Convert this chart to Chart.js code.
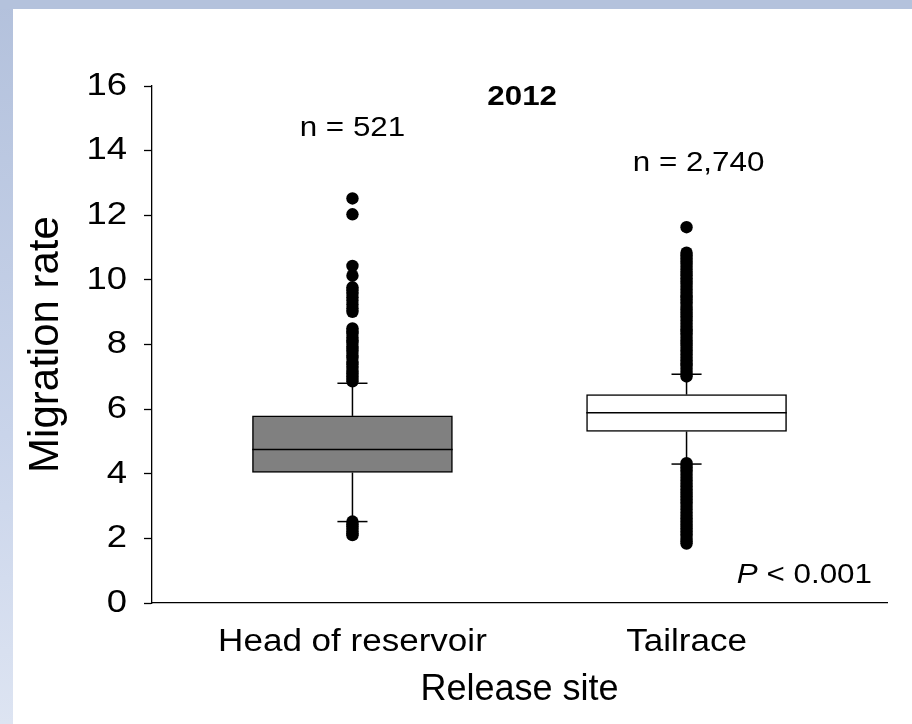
<!DOCTYPE html>
<html>
<head>
<meta charset="utf-8">
<script src="https://cdn.jsdelivr.net/npm/chart.js@4.4.1/dist/chart.umd.min.js"></script>
<style>
  html, body { margin: 0; padding: 0; }
  #frame { position: relative; width: 912px; height: 724px; background: linear-gradient(to bottom, #b3c1dc 0%, #c9d4ea 60%, #dde4f2 100%); overflow: hidden; }
  #frame::before { content: ""; position: absolute; left: 0; top: 0; width: 912px; height: 9px; background: #b4c2dc; }
  #inner { position: absolute; left: 13px; top: 9px; width: 899px; height: 715px; background: #ffffff; }
  #c { position: absolute; left: 0; top: 0; }
</style>
</head>
<body>
<div id="frame"><div id="inner"></div><canvas id="c" width="912" height="724"></canvas></div>
<script>
// ---- data ----
const categories = ['Head of reservoir', 'Tailrace'];
const positions = [1, 2];
const q1 = [4.04, 5.31];
const median = [4.75, 5.89];
const q3 = [5.79, 6.45];
const whiskerLow = [2.52, 4.30];
const whiskerHigh = [6.80, 7.08];
const sampleSizes = ['n = 521', 'n = 2,740'];
const yearLabel = '2012';
const pLabel = ['P', ' < 0.001'];
const yTicks = [0, 2, 4, 6, 8, 10, 12, 14, 16];

const outliersHead = [12.52, 12.03, 10.43, 10.13,
  9.77, 9.68, 9.57, 9.46, 9.36, 9.24, 9.12, 9.01,
  8.50, 8.41, 8.33, 8.22, 8.13, 8.05, 7.94, 7.86, 7.77, 7.66, 7.58, 7.47, 7.39, 7.28, 7.19, 7.11, 7.02, 6.93, 6.86,
  2.52, 2.44, 2.37, 2.30, 2.22, 2.15, 2.10];
const outliersTail = [11.63,
  10.84, 10.76, 10.67, 10.58, 10.49, 10.41, 10.32, 10.22, 10.14, 10.05, 9.96, 9.87, 9.79, 9.70, 9.61, 9.52, 9.44, 9.35,
  9.26, 9.17, 9.09, 9.00, 8.91, 8.82, 8.74, 8.65, 8.56, 8.47, 8.39, 8.30, 8.21, 8.12, 8.04, 7.95, 7.86, 7.77, 7.69, 7.60,
  7.51, 7.42, 7.34, 7.25, 7.16, 7.07, 7.01,
  4.33, 4.24, 4.15, 4.06, 3.97, 3.88, 3.79, 3.70, 3.61, 3.52, 3.43, 3.34, 3.25, 3.16, 3.07, 2.98, 2.89, 2.80, 2.71,
  2.62, 2.53, 2.44, 2.35, 2.26, 2.17, 2.08, 1.99, 1.91, 1.84];
const outlierSets = [outliersHead, outliersTail];

// ---- styles ----
const FONT = "'Liberation Sans', Arial, sans-serif";
const boxFill = ['#808080', '#ffffff'];
const capHalf = 0.045;
const boxHalf = 0.3;

const datasets = [];
datasets.push({
  type: 'bar',
  data: positions.map((p, i) => ({ x: p, y: [q1[i], q3[i]] })),
  backgroundColor: boxFill,
  borderColor: '#000000',
  borderWidth: 1.5,
  borderSkipped: false,
  barThickness: 200,
  order: 5
});
positions.forEach((p, i) => {
  const seg = (pts) => ({
    type: 'line', data: pts, borderColor: '#000000', borderWidth: 1.5,
    pointRadius: 0, fill: false, tension: 0, order: 3
  });
  datasets.push(seg([{ x: p, y: q3[i] }, { x: p, y: whiskerHigh[i] }]));
  datasets.push(seg([{ x: p, y: q1[i] }, { x: p, y: whiskerLow[i] }]));
  datasets.push(seg([{ x: p - capHalf, y: whiskerHigh[i] }, { x: p + capHalf, y: whiskerHigh[i] }]));
  datasets.push(seg([{ x: p - capHalf, y: whiskerLow[i] }, { x: p + capHalf, y: whiskerLow[i] }]));
  datasets.push(seg([{ x: p - boxHalf, y: median[i] }, { x: p + boxHalf, y: median[i] }]));
  datasets.push({
    type: 'scatter',
    data: outlierSets[i].map(v => ({ x: p, y: v })),
    backgroundColor: '#000000', borderWidth: 0, pointRadius: 6.2, order: 1
  });
});

function drawText(ctx, text, x, y, font, align, sx) {
  ctx.save();
  ctx.font = font;
  ctx.textAlign = align;
  ctx.textBaseline = 'middle';
  ctx.translate(x, y);
  ctx.scale(sx, 1);
  ctx.fillText(text, 0, 0);
  ctx.restore();
}

const annotations = {
  id: 'annotations',
  afterDraw(chart) {
    const { ctx, scales: { x, y } } = chart;
    ctx.save();
    ctx.fillStyle = '#000';
    // y tick labels
    y.ticks.forEach(t => {
      drawText(ctx, String(t.value), y.right - 25, y.getPixelForValue(t.value), '32px ' + FONT, 'right', 1.14);
    });
    // category labels
    positions.forEach((p, i) => {
      drawText(ctx, categories[i], x.getPixelForValue(p), x.top + 39, '31px ' + FONT, 'center', 1.13);
    });
    drawText(ctx, yearLabel, x.getPixelForValue(1.508), y.getPixelForValue(15.64), 'bold 27px ' + FONT, 'center', 1.16);
    drawText(ctx, sampleSizes[0], x.getPixelForValue(1), y.getPixelForValue(14.7), '28px ' + FONT, 'center', 1.12);
    drawText(ctx, sampleSizes[1], x.getPixelForValue(2.036), y.getPixelForValue(13.6), '28px ' + FONT, 'center', 1.12);
    // P < 0.001 (right aligned)
    const right = x.getPixelForValue(2.555);
    const py = y.getPixelForValue(0.87);
    ctx.font = '28px ' + FONT;
    const w2 = ctx.measureText(pLabel[1]).width * 1.12;
    drawText(ctx, pLabel[1], right, py, '28px ' + FONT, 'right', 1.12);
    drawText(ctx, pLabel[0], right - w2, py, 'italic 28px ' + FONT, 'right', 1.12);
    ctx.restore();
  }
};

new Chart(document.getElementById('c'), {
  data: { datasets },
  options: {
    responsive: false,
    animation: false,
    events: [],
    layout: { padding: { left: 13, top: 86, right: 25, bottom: 0 } },
    plugins: { legend: { display: false }, tooltip: { enabled: false } },
    scales: {
      x: {
        type: 'linear', min: 0.4, max: 2.6, offset: false, bounds: 'data',
        afterBuildTicks: (s) => { s.ticks = positions.map(v => ({ value: v })); },
        afterFit: (s) => { s.height = 121; },
        ticks: { display: false },
        grid: { display: false, drawTicks: false, offset: false },
        border: { display: true, color: '#000', width: 1.3 },
        title: { display: true, text: 'Release site', font: { family: FONT, size: 36 }, color: '#000', padding: { top: 0, bottom: 12 } }
      },
      y: {
        type: 'linear', min: 0, max: 16,
        afterBuildTicks: (s) => { s.ticks = yTicks.map(v => ({ value: v })); },
        afterFit: (s) => { s.width = 139; },
        ticks: { display: false },
        grid: { drawOnChartArea: false, drawTicks: true, tickLength: 8, tickColor: '#000', tickWidth: 1.3 },
        border: { display: true, color: '#000', width: 1.3 },
        title: { display: true, text: 'Migration rate', font: { family: FONT, size: 42 }, color: '#000', padding: { top: 8, bottom: 0 } }
      }
    }
  },
  plugins: [annotations]
});
</script>
</body>
</html>
